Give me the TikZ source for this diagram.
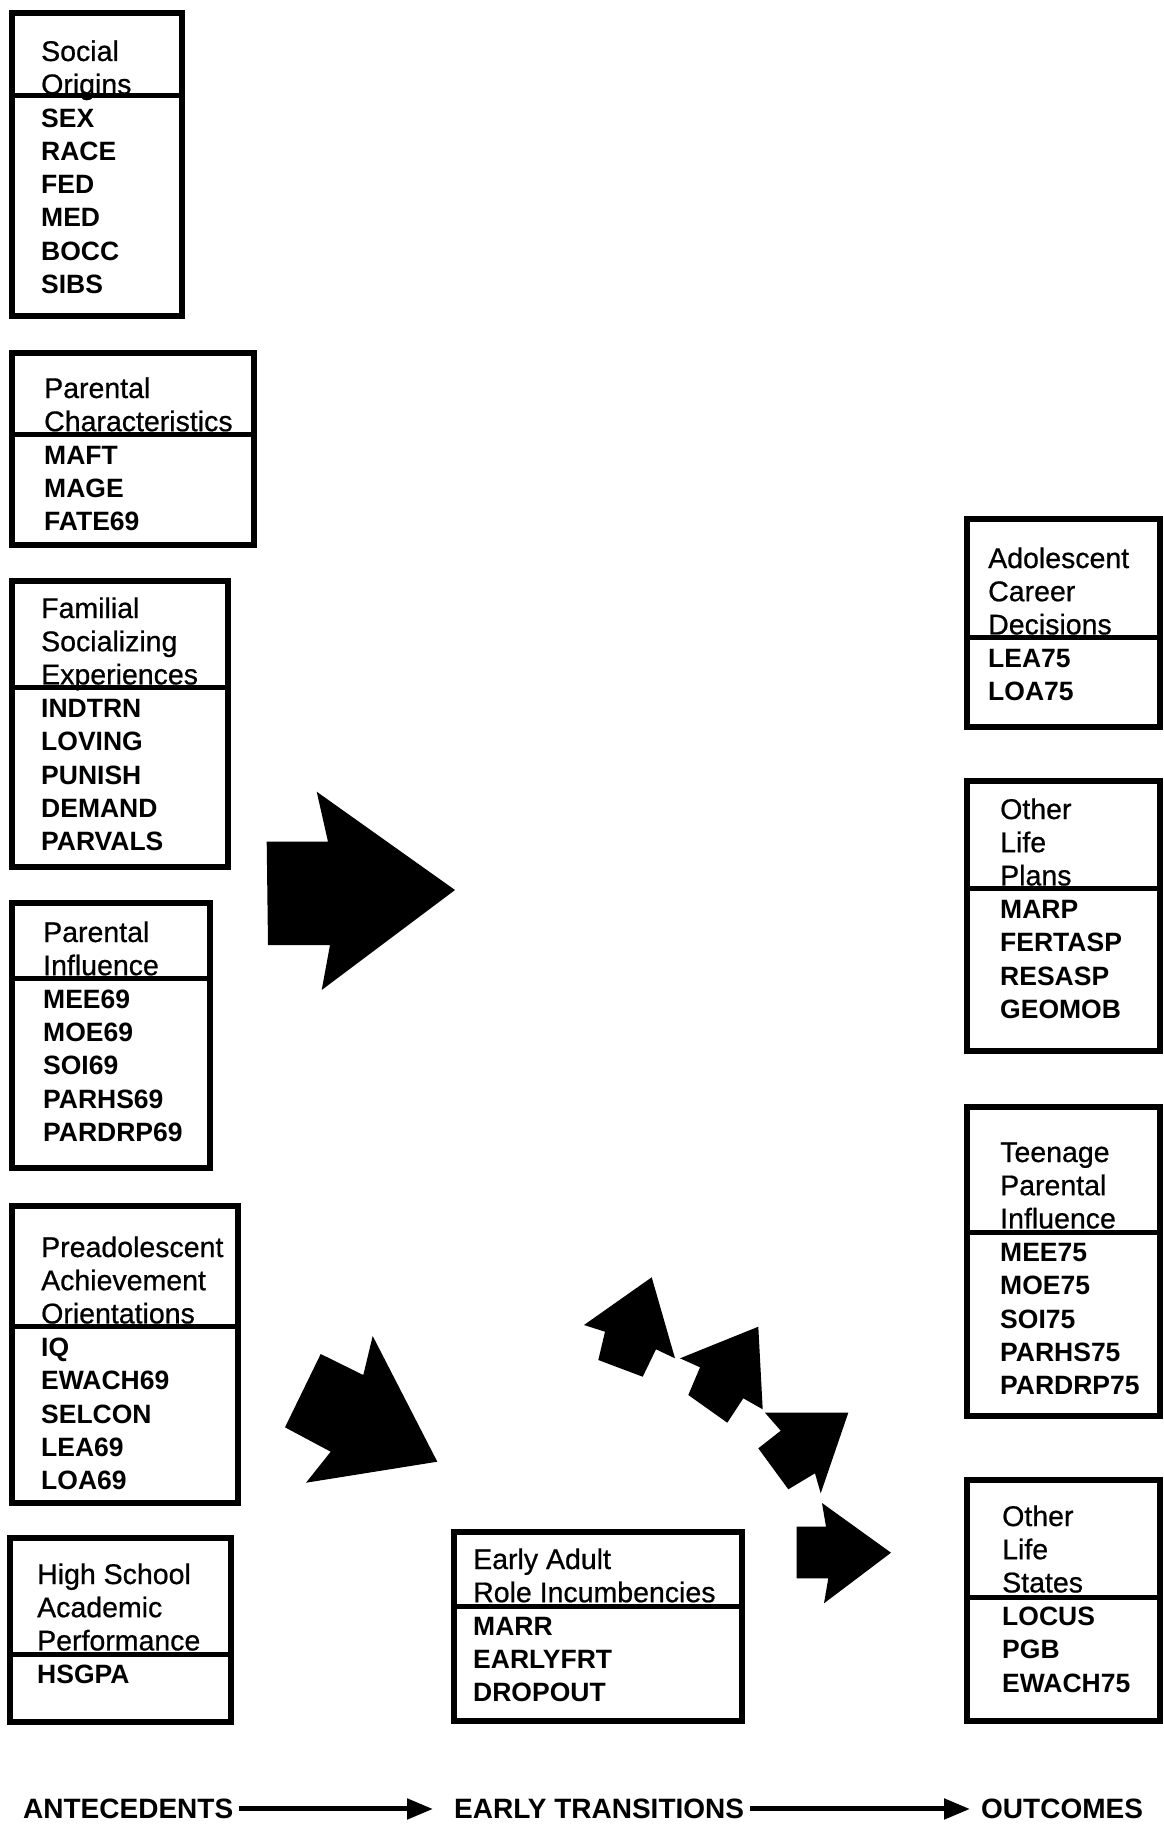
\documentclass[tikz,border=0pt]{standalone}
\usepackage{fontspec}
\setmainfont{Liberation Sans}
\newfontfamily\headfont[FakeBold=0.7]{Liberation Sans}
\usetikzlibrary{arrows.meta}
\newcommand{\rows}[1]{\begin{tabular}[t]{@{}l@{}}#1\end{tabular}}
\tikzset{
	frame/.style={draw,rectangle,line width=5.5pt,inner sep=0pt},
	rule/.style={line width=5pt},
	head/.style={anchor=base west,inner sep=0pt,font=\headfont\fontsize{28.5}{33.2}\selectfont},
	vars/.style={anchor=base west,inner sep=0pt,font=\fontsize{26.5}{33.2}\selectfont\bfseries},
	stage/.style={anchor=base west,inner sep=3pt,font=\fontsize{28}{33}\selectfont\bfseries},
	flow/.style={line width=5pt,-{Triangle[length=26pt,width=20pt]},shorten <=3pt},
	bigarrow/.style={fill=black}
}

\begin{document}
\begin{tikzpicture}[x=1pt,y=-1pt]
	\useasboundingbox (0,0) rectangle (1163,1827);

	% antecedents
	\node[frame,minimum width=170pt,minimum height=303pt] (soc) at (97,164.5) {};
	\draw[rule] ([yshift=-85pt]soc.north west) -- ([yshift=-85pt]soc.north east);
	\node[head] (socH) at (41,61) {\rows{Social\\Origins}};
	\node[vars] (socV) at (41,127.4) {\rows{SEX\\RACE\\FED\\MED\\BOCC\\SIBS}};

	\node[frame,minimum width=242pt,minimum height=192pt] (par) at (133,449) {};
	\draw[rule] ([yshift=-84pt]par.north west) -- ([yshift=-84pt]par.north east);
	\node[head] (parH) at (44,398) {\rows{Parental\\Characteristics}};
	\node[vars] (parV) at (44,464.4) {\rows{MAFT\\MAGE\\FATE69}};

	\node[frame,minimum width=216pt,minimum height=286pt] (fam) at (120,724) {};
	\draw[rule] ([yshift=-109pt]fam.north west) -- ([yshift=-109pt]fam.north east);
	\node[head] (famH) at (41,618) {\rows{Familial\\Socializing\\Experiences}};
	\node[vars] (famV) at (41,717.6) {\rows{INDTRN\\LOVING\\PUNISH\\DEMAND\\PARVALS}};

	\node[frame,minimum width=198pt,minimum height=265pt] (inf) at (111,1035.5) {};
	\draw[rule] ([yshift=-78pt]inf.north west) -- ([yshift=-78pt]inf.north east);
	\node[head] (infH) at (43,942) {\rows{Parental\\Influence}};
	\node[vars] (infV) at (43,1008.4) {\rows{MEE69\\MOE69\\SOI69\\PARHS69\\PARDRP69}};

	\node[frame,minimum width=226pt,minimum height=297pt] (pre) at (125,1354.5) {};
	\draw[rule] ([yshift=-123pt]pre.north west) -- ([yshift=-123pt]pre.north east);
	\node[head] (preH) at (41,1257) {\rows{Preadolescent\\Achievement\\Orientations}};
	\node[vars] (preV) at (41,1356.6) {\rows{IQ\\EWACH69\\SELCON\\LEA69\\LOA69}};

	\node[frame,minimum width=221pt,minimum height=184pt] (hsp) at (120.5,1630) {};
	\draw[rule] ([yshift=-119pt]hsp.north west) -- ([yshift=-119pt]hsp.north east);
	\node[head] (hspH) at (37,1584) {\rows{High School\\Academic\\Performance}};
	\node[vars] (hspV) at (37,1683.6) {\rows{HSGPA}};

	% early transitions
	\node[frame,minimum width=288pt,minimum height=189pt] (role) at (598,1626.5) {};
	\draw[rule] ([yshift=-77pt]role.north west) -- ([yshift=-77pt]role.north east);
	\node[head] (roleH) at (473,1569) {\rows{Early Adult\\Role Incumbencies}};
	\node[vars] (roleV) at (473,1635.4) {\rows{MARR\\EARLYFRT\\DROPOUT}};

	% outcomes
	\node[frame,minimum width=193pt,minimum height=208pt] (car) at (1063.5,623) {};
	\draw[rule] ([yshift=-121pt]car.north west) -- ([yshift=-121pt]car.north east);
	\node[head] (carH) at (988,568) {\rows{Adolescent\\Career\\Decisions}};
	\node[vars] (carV) at (988,667.6) {\rows{LEA75\\LOA75}};

	\node[frame,minimum width=193pt,minimum height=270pt] (plan) at (1063.5,916) {};
	\draw[rule] ([yshift=-110pt]plan.north west) -- ([yshift=-110pt]plan.north east);
	\node[head] (planH) at (1000,819) {\rows{Other\\Life\\Plans}};
	\node[vars] (planV) at (1000,918.6) {\rows{MARP\\FERTASP\\RESASP\\GEOMOB}};

	\node[frame,minimum width=193pt,minimum height=309pt] (teen) at (1063.5,1261.5) {};
	\draw[rule] ([yshift=-128pt]teen.north west) -- ([yshift=-128pt]teen.north east);
	\node[head] (teenH) at (1000,1162) {\rows{Teenage\\Parental\\Influence}};
	\node[vars] (teenV) at (1000,1261.6) {\rows{MEE75\\MOE75\\SOI75\\PARHS75\\PARDRP75}};

	\node[frame,minimum width=193pt,minimum height=241pt] (stat) at (1063.5,1600.5) {};
	\draw[rule] ([yshift=-120pt]stat.north west) -- ([yshift=-120pt]stat.north east);
	\node[head] (statH) at (1002,1526) {\rows{Other\\Life\\States}};
	\node[vars] (statV) at (1002,1625.6) {\rows{LOCUS\\PGB\\EWACH75}};

	% big arrows
	\fill[bigarrow] (266.7,841.7) -- (328,841.7) -- (316.7,791.7) -- (455,890)
		-- (321.7,990) -- (330,945) -- (268,945) -- cycle;
	\fill[bigarrow] (285,1427.3) -- (320.7,1354) -- (363.3,1375) -- (372.7,1336)
		-- (437.3,1461.7) -- (306,1482.7) -- (330.7,1451.7) -- cycle;
	\fill[bigarrow] (598.3,1360) -- (605,1331.7) -- (584,1325) -- (651.7,1277.3)
		-- (675,1358.3) -- (656,1349.3) -- (642.7,1376.7) -- cycle;
	\fill[bigarrow] (688.3,1395) -- (700,1367.3) -- (680,1358.3) -- (758.3,1326.7)
		-- (762.7,1409.3) -- (743.3,1398.3) -- (727.3,1422.7) -- cycle;
	\fill[bigarrow] (758.3,1448.3) -- (780.7,1430.7) -- (765,1412.7) -- (848.3,1412.7)
		-- (820.7,1493.3) -- (815,1473.3) -- (788.3,1489.3) -- cycle;
	\fill[bigarrow] (796.7,1526.7) -- (826,1526.7) -- (822,1503) -- (891,1552.7)
		-- (824,1603.3) -- (828.3,1578.3) -- (796.7,1578.3) -- cycle;

	% time line
	\node[stage] (ante) at (20,1818.6) {ANTECEDENTS};
	\node[stage] (early) at (451,1818.6) {EARLY TRANSITIONS};
	\node[stage] (outc) at (978,1818.6) {OUTCOMES};
	\draw[flow,shorten >=18pt] (ante) -- (early);
	\draw[flow,shorten >=8pt] (early) -- (outc);
\end{tikzpicture}
\end{document}
